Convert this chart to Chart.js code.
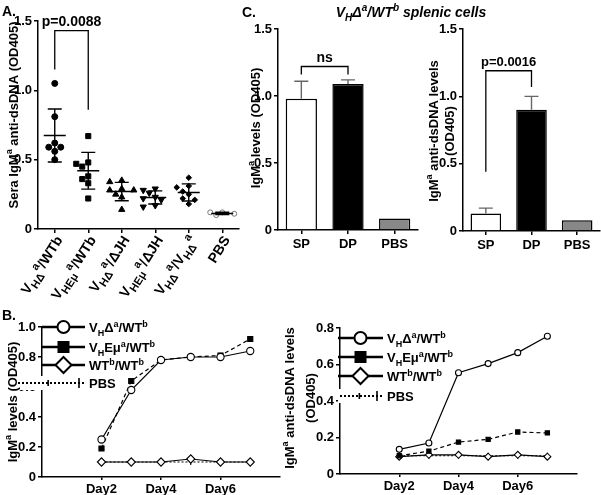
<!DOCTYPE html>
<html><head><meta charset="utf-8">
<script src="https://cdn.jsdelivr.net/npm/chart.js@4.4.0/dist/chart.umd.min.js"></script>
<style>
html,body{margin:0;padding:0;background:#fff;width:601px;height:495px;overflow:hidden;}
canvas{position:absolute;left:0;top:0;}
</style></head><body>
<canvas id="cA" width="601" height="495"></canvas>
<canvas id="cC1" width="601" height="495"></canvas>
<canvas id="cC2" width="601" height="495"></canvas>
<canvas id="cB1" width="601" height="495"></canvas>
<canvas id="cB2" width="601" height="495"></canvas>
<canvas id="cT" width="601" height="495"></canvas>
<script>
// ---------- DATA ----------
// Panel A: sera IgMa anti-dsDNA (OD405), one array per group
const groupLabelsA = ['V_HΔ_^a^/WTb','V_HEμ_^a^/WTb','V_HΔ_^a^/ΔJH','V_HEμ_^a^/ΔJH','V_HΔ_^a^/V_HΔ_^a^','PBS'];
const seraVHdWT  = [1.05,0.81,0.62,0.59,0.59,0.56,0.50];
const seraVHEWT  = [0.67,0.48,0.47,0.45,0.38,0.36,0.33,0.22];
const seraVHdJH  = [0.35,0.34,0.29,0.28,0.28,0.25,0.23,0.14];
const seraVHEJH  = [0.29,0.28,0.26,0.23,0.22,0.21,0.17,0.16];
const seraVHdVHd = [0.37,0.31,0.30,0.27,0.25,0.22,0.21,0.18];
const seraPBS    = [0.12,0.12,0.11,0.11,0.10];
const bracketA = {from:0, to:1, leftEnd:1.15, rightEnd:0.86, top:1.43, text:'p=0.0088'};

// Panel C
const cellCats = ['SP','DP','PBS'];
const igmLevels = [0.98,1.09,0.085];
const igmErr    = [0.13,0.03,0];
const antiLevels = [0.13,0.90,0.08];
const antiErr    = [0.04,0.10,0];
const bracketC1 = {from:0,to:1,leftEnd:1.16,rightEnd:1.16,top:1.22,text:'ns'};
const bracketC2 = {from:0,to:1,leftEnd:0.44,rightEnd:1.07,top:1.19,text:'p=0.0016'};

// Panel B
const days = [2,3,4,5,6,7];
const dayTicks = [2,4,6];
const seriesNames = ['V_H_Δ^a^/WT^b^','V_H_Eμ^a^/WT^b^','WT^b^/WT^b^','PBS'];
const igmVHd  = [0.25,0.58,0.78,0.80,0.80,0.84];
const igmVHE  = [0.19,0.64,0.78,0.80,0.81,0.92];
const igmWT   = [0.10,0.10,0.10,0.12,0.10,0.10];
const igmPBS  = [0.10,0.10,0.10,0.10,0.10,0.10];
const dsVHd   = [0.135,0.17,0.555,0.605,0.665,0.755];
const dsVHE   = [0.10,0.125,0.175,0.19,0.23,0.225];
const dsWT    = [0.095,0.105,0.105,0.095,0.105,0.095];
const dsPBS   = [0.10,0.10,0.10,0.10,0.10,0.10];

// ---------- HELPERS ----------
const FAM = "'Liberation Sans', Arial, Helvetica, sans-serif";
const W = 601, H = 495;
Chart.defaults.font.family = FAM;

function parseRich(s){
  const segs=[]; let mode='n', buf='';
  for (const ch of s){
    if (ch==='_'||ch==='^'){
      if (buf) segs.push({t:buf,m:mode}); buf='';
      const m = ch==='_'?'sub':'sup';
      mode = (mode===m)?'n':m;
    } else buf+=ch;
  }
  if (buf) segs.push({t:buf,m:mode});
  return segs;
}
function drawRich(ctx, s, x, y, size, align, style, small){
  style = style||'bold'; small = small||0.72;
  const segs = parseRich(s);
  const fontFor = m => style+' '+(m==='n'?size:Math.round(size*small))+'px '+FAM;
  let w=0;
  segs.forEach(sg=>{ctx.font=fontFor(sg.m); sg.w=ctx.measureText(sg.t).width; w+=sg.w;});
  let cx = align==='center'? x-w/2 : align==='right'? x-w : x;
  ctx.textAlign='left'; ctx.textBaseline='alphabetic'; ctx.fillStyle='#000';
  segs.forEach(sg=>{
    ctx.font=fontFor(sg.m);
    const dy = sg.m==='sub'? size*0.3 : sg.m==='sup'? -size*0.4 : 0;
    ctx.fillText(sg.t, cx, y+dy); cx+=sg.w;
  });
  return w;
}
function drawRotTitle(ctx, s, x, y, size){
  ctx.save(); ctx.translate(x,y); ctx.rotate(-Math.PI/2);
  drawRich(ctx, s, 0, size*0.36, size, 'center');
  ctx.restore();
}
function tickFmt(v){ return v===0 ? '0' : v.toFixed(1); }
function yScale(min,max,step,yW){
  return {type:'linear', position:'left', min, max,
    afterBuildTicks(s){ const t=[]; for(let v=min; v<=max+1e-9; v+=step) t.push({value:Math.round(v*100)/100}); s.ticks=t; },
    ticks:{color:'#000', font:{size:13, weight:'bold'}, padding:2, callback:tickFmt},
    grid:{display:true, drawOnChartArea:false, drawTicks:true, tickLength:4, color:'#000', lineWidth:1.5},
    border:{display:true, color:'#000', width:1.5},
    afterFit(s){ s.width=yW; }
  };
}
function padFor(area,yW,xH){ return {left:area.l-yW, right:W-area.r, top:area.t, bottom:H-area.b-xH}; }
function baseOpts(area,yW,xH){
  return {responsive:false, animation:false, devicePixelRatio:1,
    layout:{padding:padFor(area,yW,xH)},
    plugins:{legend:{display:false}, tooltip:{enabled:false}}};
}
function drawBracket(chart, b, fontSize){
  const ctx=chart.ctx, x=chart.scales.x, y=chart.scales.y;
  const x1=x.getPixelForValue(b.from), x2=x.getPixelForValue(b.to);
  const yt=y.getPixelForValue(b.top);
  ctx.save(); ctx.strokeStyle='#000'; ctx.lineWidth=1.3;
  ctx.beginPath();
  ctx.moveTo(x1,y.getPixelForValue(b.leftEnd)); ctx.lineTo(x1,yt); ctx.lineTo(x2,yt); ctx.lineTo(x2,y.getPixelForValue(b.rightEnd));
  ctx.stroke();
  drawRich(ctx, b.text, (x1+x2)/2, yt-5, fontSize, 'center');
  ctx.restore();
}

// ---------- PANEL A ----------
const groupValuesA = [seraVHdWT, seraVHEWT, seraVHdJH, seraVHEJH, seraVHdVHd, seraPBS];
const PXY = 139, PXX = 33.5, STEP = 6/PXX;
function swarm(vals){
  const placed=[]; const out=new Array(vals.length);
  const order = vals.map((v,i)=>i).sort((a,b)=>vals[b]-vals[a]);
  const cands=[0,-1,1,-2,2,-3,3];
  order.forEach(i=>{
    for (const c of cands){
      const ok = placed.every(p=>Math.hypot((p.o-c)*STEP*PXX,(p.v-vals[i])*PXY)>=6.2);
      if (ok){ placed.push({o:c,v:vals[i]}); out[i]=c*STEP; break; }
    }
  });
  return out;
}
const styleA = [
  {pointStyle:'circle', radius:3, bg:'#000', bc:'#000', rot:0},
  {pointStyle:'rect', radius:3.6, bg:'#000', bc:'#000', rot:0},
  {pointStyle:'triangle', radius:3.6, bg:'#000', bc:'#000', rot:0},
  {pointStyle:'triangle', radius:3.6, bg:'#000', bc:'#000', rot:180},
  {pointStyle:'rectRot', radius:2.8, bg:'#000', bc:'#000', rot:0},
  {pointStyle:'circle', radius:2.5, bg:'#fff', bc:'#777', rot:0}
];
const areaA = {l:38, r:239, t:21, b:229};
new Chart(document.getElementById('cA'), {
  type:'scatter',
  data:{datasets: groupValuesA.map((vals,gi)=>{
    const off = swarm(vals);
    return {data: vals.map((v,i)=>({x:gi+off[i], y:v})),
      pointStyle:styleA[gi].pointStyle, pointRadius:styleA[gi].radius, rotation:styleA[gi].rot,
      backgroundColor:styleA[gi].bg, borderColor:styleA[gi].bc, borderWidth:1, showLine:false};
  })},
  options:Object.assign(baseOpts(areaA,38,20),{
    scales:{
      x:{type:'linear', min:-0.5, max:5.5,
        afterBuildTicks(s){ s.ticks=groupLabelsA.map((l,i)=>({value:i})); },
        ticks:{callback:()=>'', color:'#000'},
        grid:{display:true, drawOnChartArea:false, drawTicks:true, tickLength:4, color:'#000', lineWidth:1.5},
        border:{display:true, color:'#000', width:1.5},
        afterFit(s){ s.height=20; }},
      y:yScale(0,1.5,0.5,38)
    }
  }),
  plugins:[{id:'meanSD', afterDatasetsDraw(chart){
    const ctx=chart.ctx, x=chart.scales.x, y=chart.scales.y;
    ctx.save(); ctx.strokeStyle='#000'; ctx.lineWidth=1.4;
    groupValuesA.forEach((vals,gi)=>{
      const n=vals.length, m=vals.reduce((a,b)=>a+b,0)/n;
      const sd=Math.sqrt(vals.reduce((a,b)=>a+(b-m)*(b-m),0)/(n-1));
      const px=x.getPixelForValue(gi), pm=y.getPixelForValue(m), ph=y.getPixelForValue(m+sd), pl=y.getPixelForValue(m-sd);
      ctx.beginPath();
      ctx.moveTo(px-11,pm); ctx.lineTo(px+11,pm);
      ctx.moveTo(px,ph); ctx.lineTo(px,pl);
      ctx.moveTo(px-7,ph); ctx.lineTo(px+7,ph);
      ctx.moveTo(px-7,pl); ctx.lineTo(px+7,pl);
      ctx.stroke();
    });
    ctx.restore();
  }, afterDraw(chart){
    const ctx=chart.ctx, x=chart.scales.x;
    drawBracket(chart, bracketA, 14);
    groupLabelsA.forEach((l,i)=>{
      const px=x.getPixelForValue(i);
      ctx.save(); ctx.translate(px+4, areaA.b+8); ctx.rotate(-58*Math.PI/180);
      drawRich(ctx, l, 0, 5, 14, 'right', 'bold', 0.8);
      ctx.restore();
    });
    drawRotTitle(ctx, 'Sera IgM^a^ anti-dsDNA (OD405)', 13, 115, 13);
  }}]
});

// ---------- PANEL C ----------
function barChart(id, area, vals, errs, bracket, bFont, titleFn){
  new Chart(document.getElementById(id), {
    type:'bar',
    data:{labels:cellCats, datasets:[{data:vals, backgroundColor:['#fff','#000','#888'], borderColor:'#000', borderWidth:1.5, barPercentage:0.67, categoryPercentage:1}]},
    options:Object.assign(baseOpts(area,30,22),{
      scales:{
        x:{type:'category', offset:true,
          ticks:{color:'#000', font:{size:13, weight:'bold'}, padding:3},
          grid:{display:true, offset:false, drawOnChartArea:false, drawTicks:true, tickLength:4, color:'#000', lineWidth:1.5},
          border:{display:true, color:'#000', width:1.5},
          afterFit(s){ s.height=22; }},
        y:yScale(0,1.5,0.5,30)
      }
    }),
    plugins:[{id:'err'+id, afterDatasetsDraw(chart){
      const ctx=chart.ctx, x=chart.scales.x, y=chart.scales.y;
      ctx.save(); ctx.strokeStyle='#666'; ctx.lineWidth=1.4;
      vals.forEach((v,i)=>{
        if (!errs[i]) return;
        const px=x.getPixelForValue(i), p0=y.getPixelForValue(v), p1=y.getPixelForValue(v+errs[i]);
        ctx.beginPath(); ctx.moveTo(px,p0); ctx.lineTo(px,p1); ctx.moveTo(px-7,p1); ctx.lineTo(px+7,p1); ctx.stroke();
      });
      ctx.restore();
    }, afterDraw(chart){
      drawBracket(chart, bracket, bFont);
      titleFn(chart.ctx);
    }}]
  });
}
barChart('cC1', {l:278, r:418, t:29, b:230}, igmLevels, igmErr, bracketC1, 14,
  ctx=>drawRotTitle(ctx,'IgM^a^ levels (OD405)', 255, 128, 13));
barChart('cC2', {l:463, r:600, t:29, b:231}, antiLevels, antiErr, bracketC2, 13,
  ctx=>{ drawRotTitle(ctx,'IgM^a^ anti-dsDNA levels', 433, 131, 13); drawRotTitle(ctx,'(OD405)', 449, 131, 13); });

// ---------- PANEL B ----------
function lineChart(id, area, yMax, series, r, legend, titleFn){
  const styles = [
    {ps:'circle', bg:'#fff', dash:[], rad:r, rot:0},
    {ps:'rect', bg:'#000', dash:[4,3], rad:r, rot:0},
    {ps:'rectRot', bg:'#fff', dash:[], rad:r+0.5, rot:0},
    {ps:'line', bg:'#000', dash:[2,2], rad:3, rot:90}
  ];
  new Chart(document.getElementById(id), {
    type:'scatter',
    data:{datasets: series.map((vals,si)=>({
      data: days.map((d,i)=>({x:d, y:vals[i]})), showLine:true,
      borderColor:'#000', borderWidth:1.2, borderDash:styles[si].dash,
      pointStyle:styles[si].ps, pointRadius:styles[si].rad, rotation:styles[si].rot,
      pointBackgroundColor:styles[si].bg, pointBorderColor:'#000', pointBorderWidth:1.1,
      order:si
    }))},
    options:Object.assign(baseOpts(area,30,20),{
      scales:{
        x:{type:'linear', min:0, max:8,
          afterBuildTicks(s){ s.ticks=dayTicks.map(v=>({value:v})); },
          ticks:{color:'#000', font:{size:13, weight:'bold'}, padding:2, callback:v=>'Day'+v},
          grid:{display:true, drawOnChartArea:false, drawTicks:true, tickLength:3, color:'#000', lineWidth:1.5},
          border:{display:true, color:'#000', width:1.5},
          afterFit(s){ s.height=20; }},
        y:yScale(0,yMax,0.2,30)
      }
    }),
    plugins:[{id:'leg'+id, afterDraw(chart){
      const ctx=chart.ctx, L=legend;
      ctx.save();
      // PBS entry background (covers the axis label behind it)
      ctx.fillStyle='#fff'; ctx.fillRect(L.pbsX1-2, L.ys[3]-7, L.x2-L.pbsX1+4, 14);
      ctx.strokeStyle='#000'; ctx.lineWidth=2.4;
      for (let i=0;i<3;i++){
        ctx.beginPath(); ctx.moveTo(L.x1,L.ys[i]); ctx.lineTo(L.x2,L.ys[i]); ctx.stroke();
        const mx=(L.x1+L.x2)/2, my=L.ys[i];
        ctx.lineWidth=2;
        if (i===0){ ctx.beginPath(); ctx.arc(mx,my,6,0,2*Math.PI); ctx.fillStyle='#fff'; ctx.fill(); ctx.stroke(); }
        if (i===1){ ctx.fillStyle='#000'; ctx.fillRect(mx-6,my-6,12,12); }
        if (i===2){ ctx.beginPath(); ctx.moveTo(mx,my-8); ctx.lineTo(mx+8,my); ctx.lineTo(mx,my+8); ctx.lineTo(mx-8,my); ctx.closePath(); ctx.fillStyle='#fff'; ctx.fill(); ctx.stroke(); }
        ctx.lineWidth=2.4;
      }
      ctx.lineWidth=2; ctx.setLineDash([2,2]);
      ctx.beginPath(); ctx.moveTo(L.pbsX1,L.ys[3]); ctx.lineTo(L.x2,L.ys[3]); ctx.stroke();
      ctx.setLineDash([]); ctx.lineWidth=1.6;
      const t1=L.pbsX1+(L.x2-L.pbsX1)*0.45, t2=L.x2-6;
      ctx.beginPath(); ctx.moveTo(t1,L.ys[3]-3); ctx.lineTo(t1,L.ys[3]+3); ctx.moveTo(t2,L.ys[3]-5); ctx.lineTo(t2,L.ys[3]+5); ctx.stroke();
      seriesNames.forEach((s,i)=>drawRich(ctx, s, L.x2+4, L.ys[i]+5, 13, 'left'));
      ctx.restore();
      titleFn(ctx);
    }}]
  });
}
lineChart('cB1', {l:42, r:280, t:327, b:477}, 1.0, [igmVHd, igmVHE, igmWT, igmPBS], 3.6,
  {x1:42, x2:85, pbsX1:18, ys:[327,347,365,383]},
  ctx=>drawRotTitle(ctx,'IgM^a^ levels (OD405)', 12, 402, 13));
lineChart('cB2', {l:340, r:577, t:328, b:474}, 0.8, [dsVHd, dsVHE, dsWT, dsPBS], 3,
  {x1:338, x2:383, pbsX1:340, ys:[338,357,376,396]},
  ctx=>{ drawRotTitle(ctx,'IgM^a^ anti-dsDNA levels', 289, 398, 13); drawRotTitle(ctx,'(OD405)', 310, 398, 13); });

// ---------- PANEL LABELS ----------
(function(){
  const ctx=document.getElementById('cT').getContext('2d');
  drawRich(ctx,'A.',2,16,14,'left');
  drawRich(ctx,'C.',242,17,14,'left');
  drawRich(ctx,'B.',2,320,14,'left');
  drawRich(ctx,'V_H_Δ^a^/WT^b^ splenic cells',411,17,14,'center','italic bold');
})();
</script>
</body></html>
